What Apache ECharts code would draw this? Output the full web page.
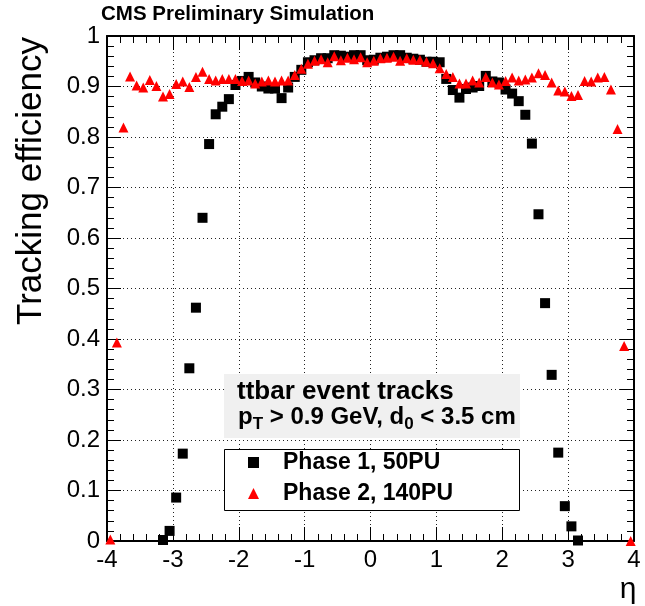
<!DOCTYPE html>
<html>
<head>
    <meta charset="utf-8">
    <title>Tracking efficiency vs eta</title>
    <script src="https://cdn.jsdelivr.net/npm/echarts@6/dist/echarts.min.js"></script>
</head>
<style>
    body { margin: 0; background: #fff; }
</style>
<body>
    <div id="main" style="width: 645px;height:606px;"></div>
    <script type="text/javascript">
        // eta bin centres, 0.1 wide, -3.95 .. 3.95
        var etaBins = [];
        for (var i = 0; i < 80; i++) etaBins.push(+(-3.95 + 0.1 * i).toFixed(2));

        // Phase 1, 50PU (null where no point is drawn)
        var phase1 = [
            null, null, null, null, null, null, null, null,
            0.002, 0.020, 0.086, 0.173, 0.342, 0.462, 0.640, 0.786, 0.845, 0.860,
            0.875, 0.903, 0.911, 0.919, 0.908, 0.900, 0.896, 0.896, 0.877, 0.898,
            0.919, 0.933, 0.948, 0.952, 0.956, 0.956, 0.962, 0.961, 0.959, 0.962,
            0.962, 0.952,
            0.953, 0.957, 0.959, 0.962, 0.962, 0.957, 0.955, 0.953, 0.949, 0.949,
            0.948, 0.915, 0.893, 0.878, 0.895, 0.898, 0.901, 0.921, 0.910, 0.908,
            0.894, 0.886, 0.871, 0.844, 0.787, 0.647, 0.471, 0.329, 0.175, 0.069,
            0.029, 0.001,
            null, null, null, null, null, null, null, null
        ];

        // Phase 2, 140PU
        var phase2 = [
            0.003, 0.393, 0.819, 0.920, 0.902, 0.898, 0.913, 0.901, 0.880, 0.885,
            0.905, 0.910, 0.899, 0.919, 0.929, 0.915, 0.912, 0.915, 0.915, 0.915,
            0.911, 0.912, 0.906, 0.910, 0.912, 0.910, 0.912, 0.912, 0.923, 0.935,
            0.945, 0.951, 0.954, 0.948, 0.960, 0.952, 0.957, 0.954, 0.958, 0.948,
            0.951, 0.956, 0.957, 0.959, 0.951, 0.956, 0.953, 0.953, 0.949, 0.946,
            0.936, 0.925, 0.919, 0.906, 0.906, 0.912, 0.908, 0.919, 0.908, 0.904,
            0.911, 0.918, 0.912, 0.914, 0.918, 0.926, 0.923, 0.908, 0.892, 0.890,
            0.881, 0.883, 0.911, 0.910, 0.918, 0.919, 0.894, 0.816, 0.386, 0.000
        ];

        var seriesNames = ['Phase 1, 50PU', 'Phase 2, 140PU'];

        function pairs(vals) {
            var out = [];
            for (var i = 0; i < vals.length; i++) {
                if (vals[i] !== null) out.push([etaBins[i], vals[i]]);
            }
            return out;
        }

        var font = 'Liberation Sans, Helvetica, Arial, sans-serif';
        var frame = { show: true, onZero: false, lineStyle: { color: '#000', width: 2 } };
        var dotted = { show: true, lineStyle: { color: '#222', type: [1, 3], width: 1 } };
        var ticks = { inside: true, length: 14, lineStyle: { color: '#000', width: 1 } };
        var minor = { show: true, splitNumber: 5, length: 7, lineStyle: { color: '#000' } };

        var myChart = echarts.init(document.getElementById('main'));

        var option = {
            animation: false,
            textStyle: { fontFamily: font },
            grid: { left: 107, right: 11, top: 36, bottom: 65 },
            xAxis: [{
                type: 'value', min: -4, max: 4, interval: 1, position: 'bottom',
                axisLine: frame, axisTick: ticks, minorTick: minor,
                splitLine: dotted,
                axisLabel: { color: '#000', fontSize: 24, margin: 7 }
            }, {
                type: 'value', min: -4, max: 4, interval: 1, position: 'top',
                axisLine: frame, axisTick: ticks, minorTick: minor,
                splitLine: { show: false },
                axisLabel: { show: false }
            }],
            yAxis: [{
                type: 'value', min: 0, max: 1, interval: 0.1, position: 'left',
                axisLine: frame, axisTick: ticks, minorTick: minor,
                splitLine: dotted,
                axisLabel: { color: '#000', fontSize: 24, margin: 7 }
            }, {
                type: 'value', min: 0, max: 1, interval: 0.1, position: 'right',
                axisLine: frame, axisTick: ticks, minorTick: minor,
                splitLine: { show: false },
                axisLabel: { show: false }
            }],
            legend: {
                data: [
                    { name: seriesNames[0], icon: 'rect' },
                    { name: seriesNames[1], icon: 'triangle' }
                ],
                orient: 'vertical',
                left: 248, top: 451,
                itemWidth: 11, itemHeight: 11, itemGap: 8,
                padding: 0,
                z: 6,
                textStyle: { fontSize: 23, fontWeight: 'bold', color: '#000', padding: [0, 0, 0, 19], lineHeight: 23 }
            },
            graphic: [
                {
                    type: 'text', left: 101, top: 4, z: 10,
                    style: { text: 'CMS Preliminary Simulation', font: 'bold 20.5px ' + font, fill: '#000' }
                },
                {
                    type: 'text', x: 31, y: 37, rotation: Math.PI / 2, z: 10,
                    style: { text: 'Tracking efficiency', font: '35px ' + font, fill: '#000', align: 'right', verticalAlign: 'middle' }
                },
                {
                    type: 'text', x: 628, y: 590, z: 10,
                    style: { text: 'η', font: '30px ' + font, fill: '#000', align: 'center', verticalAlign: 'middle' }
                },
                {
                    type: 'rect', z: 5,
                    shape: { x: 224, y: 374, width: 296, height: 64 },
                    style: { fill: '#f0f0f0' }
                },
                {
                    type: 'text', x: 237, y: 392, z: 6,
                    style: { text: 'ttbar event tracks', font: 'bold 26px ' + font, fill: '#000', verticalAlign: 'middle' }
                },
                {
                    type: 'text', x: 238, y: 417, z: 6,
                    style: {
                        text: 'p{s|T} > 0.9 GeV, d{s|0} < 3.5 cm',
                        font: 'bold 24px ' + font, fill: '#000', verticalAlign: 'middle',
                        rich: { s: { font: 'bold 17px ' + font, fill: '#000', padding: [15, 0, 0, 0] } }
                    }
                },
                {
                    type: 'rect', z: 5,
                    shape: { x: 224.5, y: 449.5, width: 295, height: 61 },
                    style: { fill: '#fff', stroke: '#000', lineWidth: 1 }
                }
            ],
            series: [{
                name: seriesNames[0],
                type: 'scatter',
                symbol: 'rect',
                symbolSize: 10,
                itemStyle: { color: '#000', opacity: 1 },
                data: pairs(phase1)
            }, {
                name: seriesNames[1],
                type: 'scatter',
                symbol: 'triangle',
                symbolSize: 10,
                itemStyle: { color: '#ff0000', opacity: 1 },
                data: pairs(phase2)
            }]
        };
        myChart.setOption(option);
        window.onresize = myChart.resize;
    </script>
</body>
</html>
